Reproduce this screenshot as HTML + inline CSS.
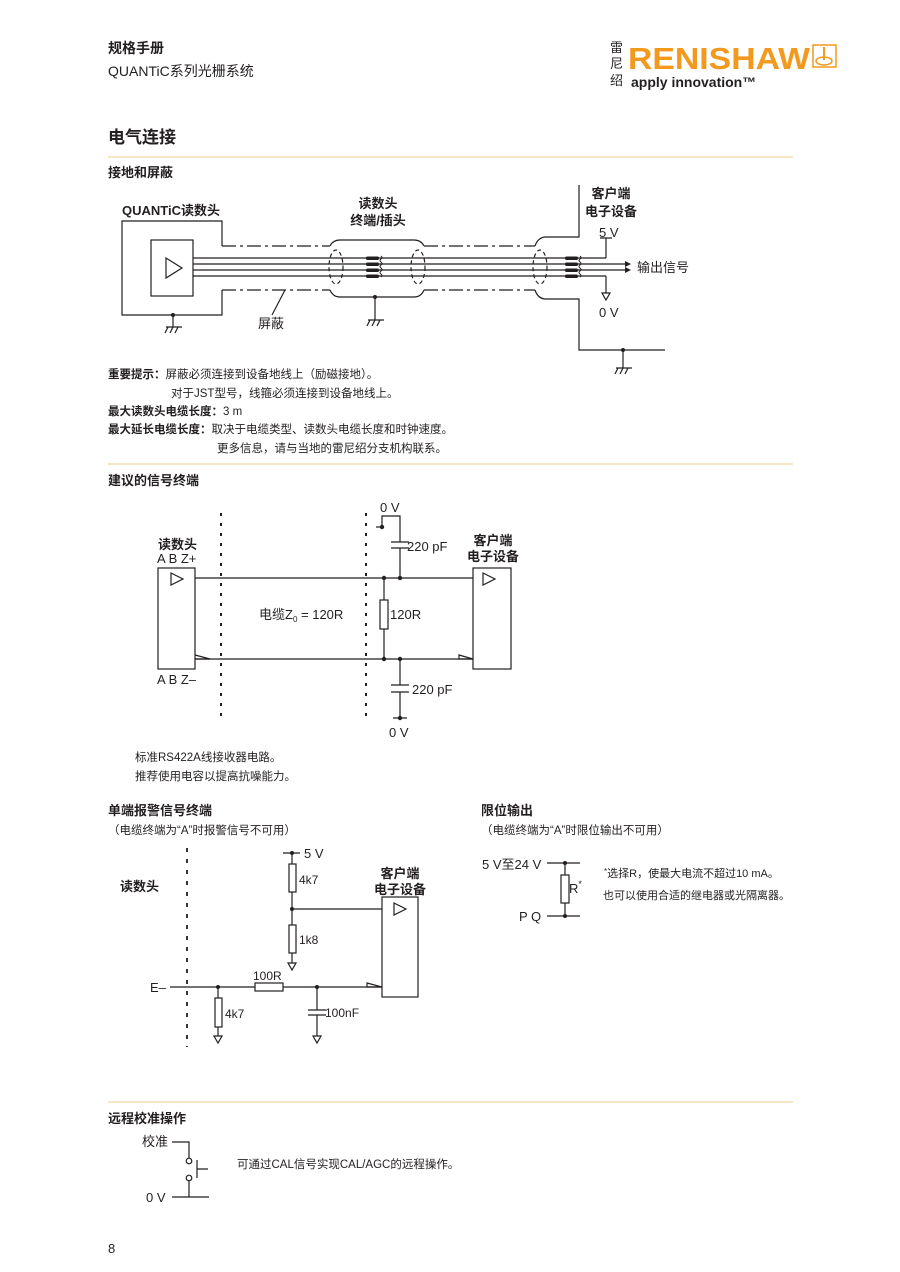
<!DOCTYPE html>
<html><head><meta charset="utf-8"><style>
html,body{margin:0;padding:0;background:#fff}
svg{display:block}
text{font-family:"Liberation Sans","Noto Sans CJK SC",sans-serif;fill:#231f20}
.b{font-weight:bold}
</style></head><body>
<svg width="900" height="1272" viewBox="0 0 900 1272" xmlns="http://www.w3.org/2000/svg">
<text x="108" y="53" font-size="14" class="b">规格手册</text>
<text x="108" y="76" font-size="14">QUANTiC系列光栅系统</text>
<text x="610" y="52" font-size="13">雷</text>
<text x="610" y="68" font-size="13">尼</text>
<text x="610" y="85" font-size="13">绍</text>
<text x="628" y="69" font-size="31" class="b" style="fill:#f39a1e" textLength="182" lengthAdjust="spacingAndGlyphs">RENISHAW</text>
<rect x="813" y="45" width="23" height="22" fill="none" stroke="#f39a1e" stroke-width="1.5"/>
<ellipse cx="824" cy="61" rx="8" ry="4" fill="none" stroke="#f39a1e" stroke-width="1.5"/>
<line x1="824" y1="47" x2="824" y2="60" stroke="#f39a1e" stroke-width="2"/>
<text x="631" y="87" font-size="14" class="b">apply innovation™</text>

<text x="108" y="143" font-size="17" class="b">电气连接</text>
<line x1="108" y1="157" x2="793" y2="157" stroke="#efd6a3" stroke-width="1.2"/>
<text x="108" y="177" font-size="13" class="b">接地和屏蔽</text>

<!-- Diagram 1 -->
<g stroke="#231f20" stroke-width="1.2" fill="none">
<path d="M222 246 V221 H122 V315 H222 V290"/>
<rect x="151" y="240" width="42" height="56"/>
<path d="M166 258 L182 268 L166 278 Z"/>
<g stroke-dasharray="14,4,3,4">
<line x1="222" y1="246" x2="330" y2="246"/><line x1="222" y1="290" x2="330" y2="290"/>
<line x1="424" y1="246" x2="535" y2="246"/><line x1="424" y1="290" x2="535" y2="290"/>
</g>
<path d="M330 246 Q333 240 340 240 H414 Q421 240 424 246"/>
<path d="M330 290 Q333 297 340 297 H414 Q421 297 424 290"/>
<path d="M535 246 Q538 237 546 237 H579 V185"/>
<path d="M535 290 Q538 299 546 299 H579 V350 H665"/>
<g stroke-dasharray="4,3">
<ellipse cx="336" cy="267" rx="7" ry="17"/><ellipse cx="418" cy="267" rx="7" ry="17"/><ellipse cx="540" cy="267" rx="7" ry="17"/>
</g>
<line x1="193" y1="258" x2="606" y2="258"/>
<line x1="193" y1="264" x2="625" y2="264"/>
<line x1="193" y1="270" x2="625" y2="270"/>
<line x1="193" y1="276" x2="606" y2="276"/>
<path d="M606 258 V238 M600 238 H612 M606 276 V293"/>
<path d="M602 293 H610 L606 300 Z"/>
<line x1="173" y1="315" x2="173" y2="327"/>
<path d="M166 327 H182 M168 327 L165 333 M173 327 L170 333 M178 327 L175 333"/>
<line x1="375" y1="297" x2="375" y2="320"/>
<path d="M368 320 H384 M370 320 L367 326 M375 320 L372 326 M380 320 L377 326"/>
<line x1="623" y1="350" x2="623" y2="368"/>
<path d="M616 368 H632 M618 368 L615 374 M623 368 L620 374 M628 368 L625 374"/>
<line x1="285" y1="290" x2="272" y2="315"/>
<g stroke-width="1"><path d="M381 256 q2 1.5 0 3 q-2 1.5 0 3 q2 1.5 0 3 q-2 1.5 0 3 q2 1.5 0 3 q-2 1.5 0 3 q2 1.5 0 3"/>
<path d="M580 256 q2 1.5 0 3 q-2 1.5 0 3 q2 1.5 0 3 q-2 1.5 0 3 q2 1.5 0 3 q-2 1.5 0 3 q2 1.5 0 3"/></g>
</g>
<g fill="#231f20">
<rect x="366" y="256.5" width="13" height="3.5" rx="1.5"/><rect x="366" y="262.5" width="13" height="3.5" rx="1.5"/><rect x="366" y="268.5" width="13" height="3.5" rx="1.5"/><rect x="366" y="274.5" width="13" height="3.5" rx="1.5"/>
<rect x="565" y="256.5" width="13" height="3.5" rx="1.5"/><rect x="565" y="262.5" width="13" height="3.5" rx="1.5"/><rect x="565" y="268.5" width="13" height="3.5" rx="1.5"/><rect x="565" y="274.5" width="13" height="3.5" rx="1.5"/>
<path d="M625 261 L631 264 L625 267 Z M625 267 L631 270 L625 273 Z"/>
<circle cx="173" cy="315" r="2"/><circle cx="375" cy="297" r="2"/><circle cx="623" cy="350" r="2"/>
</g>
<text x="122" y="215" font-size="13" class="b">QUANTiC读数头</text>
<text x="378" y="208" font-size="13" class="b" text-anchor="middle">读数头</text>
<text x="378" y="225" font-size="13" class="b" text-anchor="middle">终端/插头</text>
<text x="611" y="198" font-size="13" class="b" text-anchor="middle">客户端</text>
<text x="611" y="216" font-size="13" class="b" text-anchor="middle">电子设备</text>
<text x="599" y="237" font-size="13">5 V</text>
<text x="637" y="272" font-size="13">输出信号</text>
<text x="599" y="317" font-size="13">0 V</text>
<text x="258" y="328" font-size="13">屏蔽</text>

<g font-size="11.5">
<text x="108" y="378"><tspan class="b">重要提示：</tspan>屏蔽必须连接到设备地线上（励磁接地）。</text>
<text x="171" y="397">对于JST型号，线箍必须连接到设备地线上。</text>
<text x="108" y="415"><tspan class="b">最大读数头电缆长度：</tspan>3 m</text>
<text x="108" y="433"><tspan class="b">最大延长电缆长度：</tspan>取决于电缆类型、读数头电缆长度和时钟速度。</text>
<text x="217" y="452">更多信息，请与当地的雷尼绍分支机构联系。</text>
</g>
<line x1="108" y1="464" x2="793" y2="464" stroke="#efd6a3" stroke-width="1.2"/>
<text x="108" y="485" font-size="13" class="b">建议的信号终端</text>

<!-- Diagram 2 -->
<g stroke="#231f20" stroke-width="1.2" fill="none">
<line x1="221" y1="513" x2="221" y2="720" stroke-width="2" stroke-dasharray="3,7"/>
<line x1="366" y1="513" x2="366" y2="720" stroke-width="2" stroke-dasharray="3,7"/>
<rect x="158" y="568" width="37" height="101"/>
<rect x="473" y="568" width="38" height="101"/>
<path d="M171 573 L183 579 L171 585 Z M483 573 L495 579 L483 585 Z"/>
<path d="M459 655 L473 659 L459 659 Z M195 659 L210 659 L195 655"/>
<line x1="195" y1="578" x2="473" y2="578"/>
<line x1="195" y1="659" x2="473" y2="659"/>
<line x1="384" y1="578" x2="384" y2="600"/><rect x="380" y="600" width="8" height="29"/><line x1="384" y1="629" x2="384" y2="659"/>
<path d="M382 527 V516 H400 V542 M391 542 H409 M391 548 H409 M400 548 V578"/>
<path d="M376 527 H382"/>
<path d="M400 659 V685 M391 685 H409 M391 692 H409 M400 692 V718 M393 718 H407"/>
</g>
<g fill="#231f20"><circle cx="382" cy="527" r="2.2"/><circle cx="384" cy="578" r="2.2"/><circle cx="400" cy="578" r="2.2"/><circle cx="384" cy="659" r="2.2"/><circle cx="400" cy="659" r="2.2"/><circle cx="400" cy="718" r="2.2"/></g>
<text x="158" y="549" font-size="13" class="b">读数头</text>
<text x="157" y="563" font-size="13">A B Z+</text>
<text x="157" y="684" font-size="13">A B Z–</text>
<text x="493" y="545" font-size="13" class="b" text-anchor="middle">客户端</text>
<text x="493" y="561" font-size="13" class="b" text-anchor="middle">电子设备</text>
<text x="380" y="512" font-size="13">0 V</text>
<text x="407" y="551" font-size="13">220 pF</text>
<text x="390" y="619" font-size="13">120R</text>
<text x="259" y="619" font-size="13">电缆Z<tspan font-size="8" dy="3">0</tspan><tspan dy="-3"> = 120R</tspan></text>
<text x="412" y="694" font-size="13">220 pF</text>
<text x="389" y="737" font-size="13">0 V</text>
<text x="135" y="761" font-size="11.5">标准RS422A线接收器电路。</text>
<text x="135" y="780" font-size="11.5">推荐使用电容以提高抗噪能力。</text>

<text x="108" y="815" font-size="13" class="b">单端报警信号终端</text>
<text x="108" y="834" font-size="11.5">（电缆终端为“A”时报警信号不可用）</text>
<text x="481" y="815" font-size="13" class="b">限位输出</text>
<text x="481" y="834" font-size="11.5">（电缆终端为“A”时限位输出不可用）</text>

<!-- Diagram 3 -->
<g stroke="#231f20" stroke-width="1.2" fill="none">
<line x1="187" y1="848" x2="187" y2="1047" stroke-width="1.8" stroke-dasharray="4,7"/>
<path d="M283 853 H300 M292 853 V864"/><rect x="289" y="864" width="7" height="28"/>
<path d="M292 892 V925 M292 909 H382"/><rect x="289" y="925" width="7" height="28"/>
<path d="M292 953 V963"/><path d="M288 963 H296 L292 970 Z"/>
<rect x="382" y="897" width="36" height="100"/>
<path d="M394 903 L406 909 L394 915 Z"/>
<path d="M367 983 L382 987 L367 987 Z"/>
<path d="M170 987 H255 M283 987 H382"/><rect x="255" y="983" width="28" height="8"/>
<path d="M218 987 V998"/><rect x="215" y="998" width="7" height="29"/><path d="M218 1027 V1036"/><path d="M214 1036 H222 L218 1043 Z"/>
<path d="M317 987 V1010 M308 1010 H326 M308 1015 H326 M317 1015 V1036"/><path d="M313 1036 H321 L317 1043 Z"/>
</g>
<g fill="#231f20"><circle cx="292" cy="853" r="2"/><circle cx="292" cy="909" r="2"/><circle cx="218" cy="987" r="2"/><circle cx="317" cy="987" r="2"/></g>
<text x="120" y="891" font-size="13" class="b">读数头</text>
<text x="304" y="858" font-size="13">5 V</text>
<text x="299" y="884" font-size="12">4k7</text>
<text x="299" y="944" font-size="12">1k8</text>
<text x="400" y="878" font-size="13" class="b" text-anchor="middle">客户端</text>
<text x="400" y="894" font-size="13" class="b" text-anchor="middle">电子设备</text>
<text x="150" y="992" font-size="13">E–</text>
<text x="253" y="980" font-size="12">100R</text>
<text x="225" y="1018" font-size="12">4k7</text>
<text x="325" y="1017" font-size="12">100nF</text>

<!-- Diagram 4 -->
<g stroke="#231f20" stroke-width="1.2" fill="none">
<path d="M547 863 H580 M565 863 V875 M565 903 V916 M547 916 H580"/><rect x="561" y="875" width="8" height="28"/>
</g>
<g fill="#231f20"><circle cx="565" cy="863" r="2"/><circle cx="565" cy="916" r="2"/></g>
<text x="482" y="869" font-size="13">5 V至24 V</text>
<text x="569" y="893" font-size="13">R<tspan font-size="9" dy="-6">*</tspan></text>
<text x="519" y="921" font-size="13">P Q</text>
<text x="604" y="877" font-size="11"><tspan font-size="8" dy="-3">*</tspan><tspan dy="3">选择R，使最大电流不超过10 mA。</tspan></text>
<text x="603" y="899" font-size="11">也可以使用合适的继电器或光隔离器。</text>

<line x1="108" y1="1102" x2="793" y2="1102" stroke="#efd6a3" stroke-width="1.2"/>
<text x="108" y="1123" font-size="13" class="b">远程校准操作</text>
<g stroke="#231f20" stroke-width="1.2" fill="none">
<path d="M172 1142 H189 V1158"/><circle cx="189" cy="1161" r="2.8"/><circle cx="189" cy="1178" r="2.8"/>
<path d="M189 1181 V1197 M172 1197 H209 M197 1160 V1178 M197 1169 H208"/>
</g>
<text x="142" y="1146" font-size="13">校准</text>
<text x="146" y="1202" font-size="13">0 V</text>
<text x="237" y="1168" font-size="11.5">可通过CAL信号实现CAL/AGC的远程操作。</text>
<text x="108" y="1253" font-size="13">8</text>
</svg>
</body></html>
